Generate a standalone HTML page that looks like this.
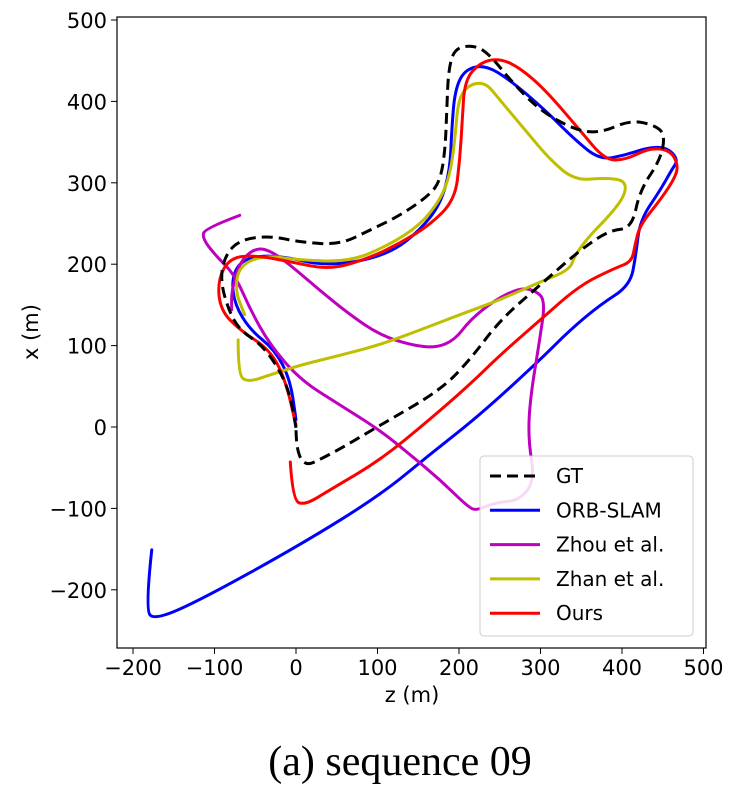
<!DOCTYPE html>
<html><head><meta charset="utf-8"><style>
body{margin:0;background:#fff;width:744px;height:798px;overflow:hidden}
text{font-family:"DejaVu Sans","Liberation Sans",sans-serif}
</style></head><body>
<svg id="chart" width="744" height="798" xmlns="http://www.w3.org/2000/svg">
<g id="plot"></g>
<rect x="117" y="17" width="589" height="631" fill="none" stroke="#000" stroke-width="1.2"/>
<g id="ticks"></g>
<text x="412" y="702" font-size="21" text-anchor="middle">z (m)</text>
<text x="38" y="332" font-size="21" text-anchor="middle" transform="rotate(-90 38 332)">x (m)</text>
<text x="400" y="775" font-size="42" text-anchor="middle" style="font-family:'Liberation Serif',serif">(a) sequence 09</text>
<g>
<rect x="480" y="456" width="213" height="180" rx="4" fill="#fff" fill-opacity="0.85" stroke="#ccc"/>
<g id="legend-entries"></g>
</g>
</svg>
<script>
const xTicks=[-200,-100,0,100,200,300,400,500];
const yTicks=[-200,-100,0,100,200,300,400,500];
const seriesNames=["GT","ORB-SLAM","Zhou et al.","Zhan et al.","Ours"];
const seriesColors=["#000","#0000ff","#bf00bf","#bfbf00","#ff0000"];
const gtZ=[0,1,42,103,177,213,250,299,348,385,412,422,447,453,440,410,373,342,299,263,238,220,195,187,185,183,177,164,128,91,54,5,-32,-69,-87,-93,-83,-69,-42,-20,-7,0];
const gtX=[-4,-53,-34,2,45,82,131,174,217,242,244,291,328,359,371,377,361,365,389,426,457,469,466,439,389,340,303,285,260,242,224,227,235,230,211,181,144,119,101,70,39,-1];
const orbZ=[-177,-185,-173,-118,5,103,164,226,299,336,373,410,417,422,447,461,469,456,434,404,373,342,306,263,232,207,195,191,189,177,152,121,79,29,-7,-44,-69,-79,-75,-56,-26,-7,0];
const orbX=[-151,-225,-237,-213,-145,-84,-34,15,82,119,150,174,211,254,291,316,328,343,344,334,328,353,389,426,445,439,414,365,316,273,242,217,203,199,208,211,203,181,150,119,95,58,9];
const zhouZ=[-69,-112,-115,-99,-75,-56,-32,5,54,103,140,177,213,223,244,275,293,285,287,299,306,293,275,244,213,195,171,140,103,66,29,-7,-32,-50,-69,-79,-79];
const zhouX=[260,244,232,211,187,144,101,58,27,-4,-34,-65,-100,-102,-93,-90,-65,-16,33,107,156,168,171,156,131,107,97,101,113,138,168,199,217,220,203,168,144];
const zhanZ=[-71,-71,-59,-32,5,54,103,152,201,250,299,336,342,361,385,404,404,379,342,312,281,250,232,211,199,195,189,177,152,115,66,5,-38,-69,-75,-63];
const zhanX=[107,64,55,64,76,88,101,119,138,156,178,193,211,236,260,285,303,306,303,328,365,402,424,420,402,353,310,279,248,224,203,205,211,199,168,138];
const oursZ=[-7,-4,11,42,103,164,213,250,299,348,391,412,416,422,447,465,469,459,434,404,379,348,306,275,250,226,207,204,201,195,164,128,91,42,-7,-50,-81,-96,-93,-69,-32,-13,0];
const oursX=[-43,-90,-96,-77,-41,9,52,88,131,174,195,203,224,248,279,306,322,340,343,328,328,365,414,441,453,448,426,377,328,279,248,226,208,193,203,211,208,181,144,119,95,58,2];

const sx=v=>296+v*0.815, sy=v=>427-v*0.814;
const NS="http://www.w3.org/2000/svg";
function mk(tag,attrs,parent){const e=document.createElementNS(NS,tag);for(const k in attrs)e.setAttribute(k,attrs[k]);parent.appendChild(e);return e;}
function pathD(zs,xs){const p=zs.map((z,i)=>[sx(z),sy(xs[i])]);let d="M"+p[0][0]+","+p[0][1];
for(let i=1;i<p.length-1;i++){const mx=(p[i][0]+p[i+1][0])/2,my=(p[i][1]+p[i+1][1])/2;d+=" Q"+p[i][0]+","+p[i][1]+" "+mx+","+my;}
const l=p[p.length-1];d+=" L"+l[0]+","+l[1];return d;}
const plot=document.getElementById("plot");
const data=[[gtZ,gtX],[orbZ,orbX],[zhouZ,zhouX],[zhanZ,zhanX],[oursZ,oursX]];
const order=[1,2,3,4,0];
const slug=["gt","orb-slam","zhou","zhan","ours"];
order.forEach(i=>{const e=mk("path",{d:pathD(data[i][0],data[i][1]),fill:"none",stroke:seriesColors[i],"stroke-width":3,"stroke-linejoin":"round","stroke-linecap":"round"},plot);
if(i===0){e.setAttribute("stroke-dasharray","11,6");e.setAttribute("stroke-linecap","butt");}

});
const tg=document.getElementById("ticks");
xTicks.forEach(t=>{const x=sx(t);mk("line",{x1:x,x2:x,y1:648,y2:654,stroke:"#000"},tg);
const tx=mk("text",{x:x,y:675,"font-size":21,"text-anchor":"middle"},tg);tx.textContent=(t<0?"\u2212"+(-t):t);

});
yTicks.forEach(t=>{const y=sy(t);mk("line",{x1:111,x2:117,y1:y,y2:y,stroke:"#000"},tg);
const tx=mk("text",{x:107,y:y+8,"font-size":21,"text-anchor":"end"},tg);tx.textContent=(t<0?"\u2212"+(-t):t);

});
const lg=document.getElementById("legend-entries");
seriesNames.forEach((n,i)=>{const y=476+i*34.3;
const g=mk("g",{},lg);


const l=mk("line",{x1:490,x2:540,y1:y,y2:y,stroke:seriesColors[i],"stroke-width":3},g);
if(i===0)l.setAttribute("stroke-dasharray","11,6");
const t=mk("text",{x:556,y:y+7,"font-size":20},g);t.textContent=n;});
</script>
</body></html>
